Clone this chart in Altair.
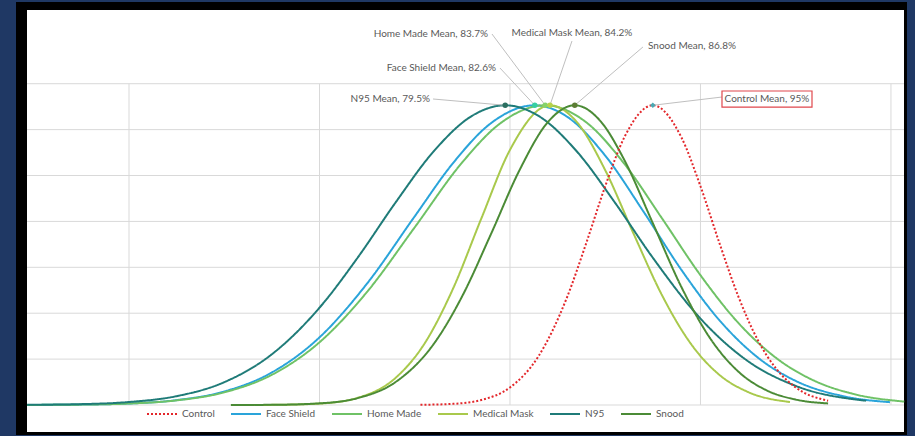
import altair as alt
import pandas as pd

# ---------------- data ----------------
SERIES = ["Face Shield", "Home Made", "Medical Mask", "N95", "Snood", "Control"]

control_x = [70.6, 74, 77, 80, 83, 86, 88, 90, 92, 95, 98, 100, 102, 104, 106, 108, 110, 113.4]
control_y = [0.004, 0.025, 0.110, 0.383, 1.064, 2.353, 3.522, 4.766, 5.830, 6.53,
             5.830, 4.766, 3.522, 2.353, 1.422, 0.777, 0.383, 0.092]

face_x = [29.3, 35, 40, 45, 50, 55, 60, 65, 70, 74, 78, 82.6, 86, 90, 94, 98, 102, 106, 110, 115, 119.9]
face_y = [0.002, 0.009, 0.033, 0.106, 0.295, 0.709, 1.474, 2.648, 4.111, 5.265, 6.140, 6.53,
          6.281, 5.433, 4.220, 2.944, 1.845, 1.038, 0.525, 0.192, 0.061]

home_x = [29.3, 35, 40, 45, 50, 55, 60, 65, 70, 75, 79, 83.7, 88, 92, 96, 100, 104, 108, 112, 116, 121.4]
home_y = [0.002, 0.009, 0.032, 0.101, 0.276, 0.659, 1.367, 2.466, 3.872, 5.289, 6.140, 6.53,
          6.160, 5.257, 4.055, 2.828, 1.783, 1.017, 0.524, 0.244, 0.074]

mask_x = [50.7, 55, 60, 64, 68, 71, 74, 77, 80, 84.2, 87, 90, 93, 96, 99, 102, 105, 109.4]
mask_y = [0.000, 0.003, 0.031, 0.157, 0.594, 1.330, 2.525, 4.068, 5.558, 6.53,
          6.169, 5.116, 3.722, 2.377, 1.332, 0.655, 0.283, 0.065]

n95_x = [29.3, 35, 40, 45, 50, 55, 60, 64, 68, 72, 76, 79.5, 83, 87, 91, 95, 100, 105, 110, 117.4]
n95_y = [0.004, 0.019, 0.065, 0.193, 0.497, 1.106, 2.120, 3.208, 4.416, 5.529, 6.298, 6.53,
         6.298, 5.529, 4.416, 3.208, 1.883, 0.953, 0.417, 0.093]

snood_x = [50.7, 55, 60, 64, 68, 72, 75, 78, 81, 84, 86.8, 89.5, 92, 95, 98, 101, 104, 107, 110, 113.4]
snood_y = [0.001, 0.004, 0.036, 0.150, 0.502, 1.332, 2.377, 3.722, 5.116, 6.169, 6.53,
           6.185, 5.341, 3.961, 2.570, 1.458, 0.724, 0.314, 0.119, 0.034]

MEANS = [82.6, 83.7, 84.2, 79.5, 86.8, 95.0]
PEAK = 6.53
MEAN_LABELS = ["Face Shield Mean, 82.6%", "Home Made Mean, 83.7%", "Medical Mask Mean, 84.2%",
               "N95 Mean, 79.5%", "Snood Mean, 86.8%", "Control Mean, 95%"]

X_GRID = [40, 60, 80, 100, 120]
Y_GRID = [0, 1, 2, 3, 4, 5, 6, 7]

# ---------------- styling / layout ----------------
LEGEND_ORDER = ["Control", "Face Shield", "Home Made", "Medical Mask", "N95", "Snood"]
LINE_COLORS = ["#e3272b", "#2aa4da", "#6fc266", "#a9c94c", "#1f7b78", "#4b8b36"]
DASHES = [[2, 2], [1, 0], [1, 0], [1, 0], [1, 0], [1, 0]]
MARKER_COLORS = ["#36cfa3", "#86d26a", "#b6d24a", "#2b6f60", "#5c7d34", "#4aa9b3"]
MARKER_SHAPES = ["circle", "circle", "circle", "circle", "circle", "diamond"]

# label anchor (data units), alignment, leader start (data units)
LABEL_X = [78.53, 77.69, 86.51, 71.60, 94.49, 106.98]
LABEL_Y = [7.342, 8.083, 8.105, 6.667, 7.821, 6.667]
LABEL_ALIGN = ["right", "right", "center", "right", "left", "center"]
LEAD_X = [78.95, 78.11, 86.51, 71.92, 93.96, 102.26]
LEAD_Y = [7.342, 8.083, 7.93, 6.667, 7.80, 6.71]
BOX = pd.DataFrame({"bx": [102.26], "bx2": [111.71], "by": [6.841], "by2": [6.492]})

W, H = 877, 422
FONT = "Lato"
TXT = "#595959"

xscale = alt.Scale(domain=[29.29, 121.37], nice=False, zero=False)
yscale = alt.Scale(domain=[-0.588, 8.606], nice=False, zero=False)

rows = []
for name, xs, ys in [("Face Shield", face_x, face_y), ("Home Made", home_x, home_y),
                     ("Medical Mask", mask_x, mask_y), ("N95", n95_x, n95_y),
                     ("Snood", snood_x, snood_y), ("Control", control_x, control_y)]:
    for a, b in zip(xs, ys):
        rows.append({"series": name, "x": a, "y": b})
curves_df = pd.DataFrame(rows)

means_df = pd.DataFrame({
    "series": SERIES, "mean": MEANS, "peak": [PEAK] * len(MEANS), "label": MEAN_LABELS,
    "mcolor": MARKER_COLORS, "mshape": MARKER_SHAPES,
    "lx": LABEL_X, "ly": LABEL_Y, "align": LABEL_ALIGN, "sx": LEAD_X, "sy": LEAD_Y,
})

one = pd.DataFrame({"k": [0]})

frame = alt.Chart(one).mark_rect(color="#000000").encode(
    x=alt.value(-11), x2=alt.value(W + 3), y=alt.value(-8), y2=alt.value(H + 3))
panel = alt.Chart(one).mark_rect(color="#ffffff").encode(
    x=alt.value(0), x2=alt.value(W), y=alt.value(0), y2=alt.value(H))

hgrid = alt.Chart(pd.DataFrame({"v": Y_GRID})).mark_rule(color="#d9d9d9", strokeWidth=1).encode(
    y=alt.Y("v:Q", scale=yscale, axis=None), x=alt.value(0), x2=alt.value(W))
vgrid = alt.Chart(pd.DataFrame({"v": X_GRID, "y0": [0] * 5, "y1": [7] * 5})).mark_rule(
    color="#d9d9d9", strokeWidth=1).encode(
    x=alt.X("v:Q", scale=xscale, axis=None),
    y=alt.Y("y0:Q", scale=yscale, axis=None), y2="y1:Q")

legend = alt.Legend(title=None, orient="none", legendX=119, legendY=388, direction="horizontal",
                    symbolType="stroke", symbolSize=900, symbolStrokeWidth=2,
                    labelFont=FONT, labelFontSize=10, labelColor=TXT, labelOffset=4,
                    columnPadding=12, padding=0)

curves = alt.Chart(curves_df).mark_line(interpolate="monotone", strokeWidth=2).encode(
    x=alt.X("x:Q", scale=xscale, axis=None),
    y=alt.Y("y:Q", scale=yscale, axis=None),
    color=alt.Color("series:N", scale=alt.Scale(domain=LEGEND_ORDER, range=LINE_COLORS), legend=legend),
    strokeDash=alt.StrokeDash("series:N", scale=alt.Scale(domain=LEGEND_ORDER, range=DASHES), legend=legend),
)

leaders = alt.Chart(means_df).mark_rule(color="#bfbfbf", strokeWidth=1).encode(
    x=alt.X("sx:Q", scale=xscale, axis=None), y=alt.Y("sy:Q", scale=yscale, axis=None),
    x2="mean:Q", y2="peak:Q")

markers = alt.Chart(means_df).mark_point(filled=True, size=30, opacity=1).encode(
    x=alt.X("mean:Q", scale=xscale, axis=None), y=alt.Y("peak:Q", scale=yscale, axis=None),
    color=alt.Color("mcolor:N", scale=None, legend=None),
    shape=alt.Shape("mshape:N", scale=None, legend=None))

box = alt.Chart(BOX).mark_rect(fill="#ffffff", stroke="#e0474c", strokeWidth=1.2).encode(
    x=alt.X("bx:Q", scale=xscale, axis=None), x2="bx2:Q",
    y=alt.Y("by:Q", scale=yscale, axis=None), y2="by2:Q")

texts = []
for al in ["right", "center", "left"]:
    texts.append(alt.Chart(means_df).transform_filter(alt.datum.align == al).mark_text(
        align=al, baseline="middle", font=FONT, fontSize=10, color=TXT).encode(
        x=alt.X("lx:Q", scale=xscale, axis=None), y=alt.Y("ly:Q", scale=yscale, axis=None),
        text="label:N"))

chart = alt.layer(frame, panel, hgrid, vgrid, curves, leaders, markers, box, *texts).properties(
    width=W, height=H, background="#1f3864",
    padding={"left": 27, "top": 10, "right": 11, "bottom": 4},
    autosize=alt.AutoSizeParams(type="none"),
).configure_view(stroke=None)

chart.save("out.html", embed_options={"renderer": "svg", "actions": False})
